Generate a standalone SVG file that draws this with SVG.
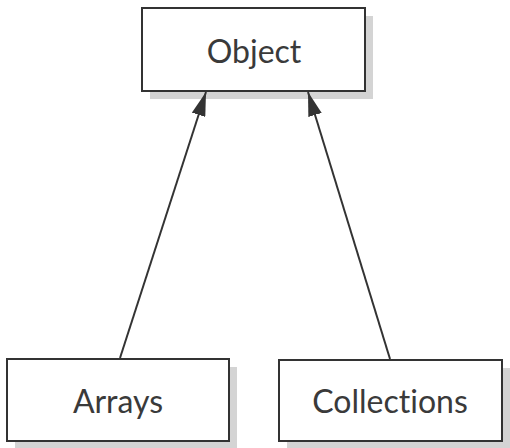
<svg xmlns="http://www.w3.org/2000/svg" width="510" height="448" viewBox="0 0 510 448">
<defs>
<style>
.shadow{fill:#d4d4d4;stroke:none}
.box{fill:#fff;stroke:#333;stroke-width:2}
.lbl{font-family:Lato,"Open Sans",sans-serif;font-size:32px;fill:#3a3a3a;text-anchor:middle;font-variant-ligatures:none}
.edge{stroke:#333;stroke-width:2;fill:none}
</style>
<marker id="arr" markerWidth="24" markerHeight="14" refX="24" refY="7" orient="auto" markerUnits="userSpaceOnUse" viewBox="0 0 24 14">
<path d="M0,0 L24,7 L0,14 Z" fill="#333"/>
</marker>
</defs>
<rect width="510" height="448" fill="#fff"/>
<g id="node-object">
<rect class="shadow" x="150" y="16" width="223" height="83"/>
<rect class="box" x="142" y="8" width="223" height="83"/>
<text class="lbl" x="254" y="63">Object</text>
</g>
<g id="node-arrays">
<rect class="shadow" x="15" y="367" width="222" height="81"/>
<rect class="box" x="7" y="359" width="222" height="82"/>
<text class="lbl" x="118" y="413">Arrays</text>
</g>
<g id="node-collections">
<rect class="shadow" x="287" y="368" width="223" height="80"/>
<rect class="box" x="279" y="360" width="223" height="81"/>
<text class="lbl" x="390" y="413">Collections</text>
</g>
<g id="connectors">
<line class="edge" x1="120" y1="358" x2="206" y2="92" marker-end="url(#arr)"/>
<line class="edge" x1="390" y1="359" x2="308" y2="92" marker-end="url(#arr)"/>
</g>
</svg>
